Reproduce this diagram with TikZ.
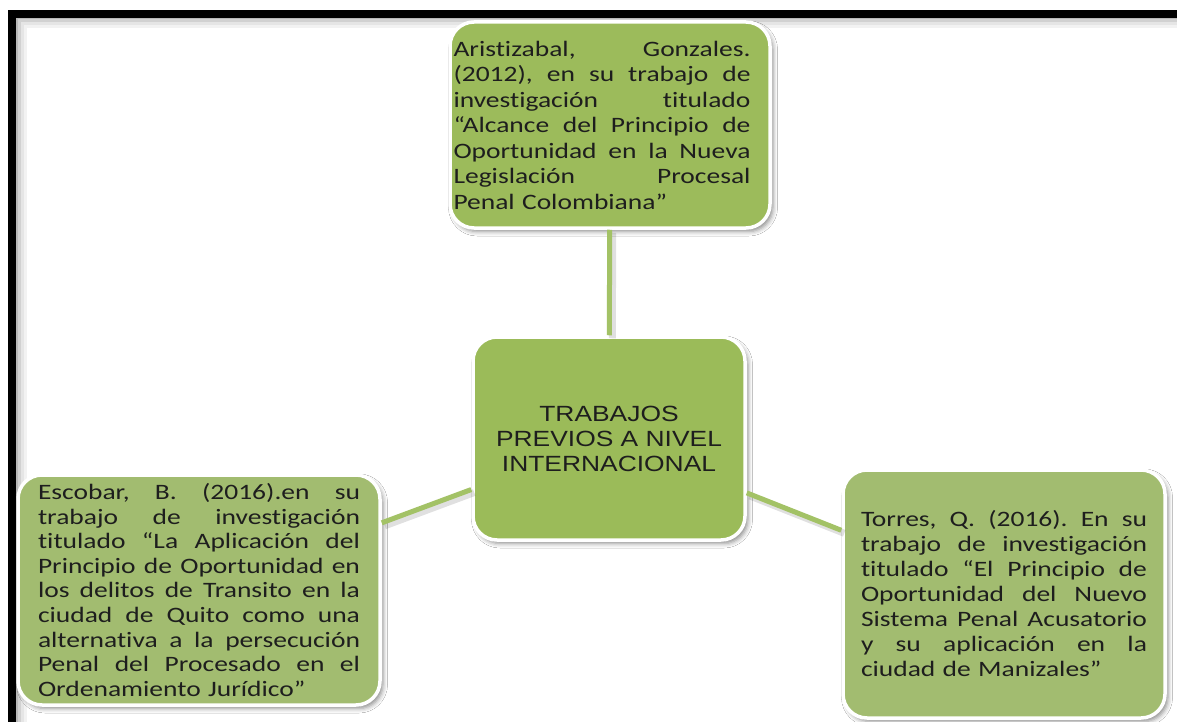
\documentclass[tikz,border=0pt]{standalone}
\usepackage{fontspec}
\newfontfamily\bodyfont[FakeStretch=1.25,Ligatures={NoCommon}]{Carlito}
\newfontfamily\headfont[FakeStretch=1.2]{Liberation Sans}
\usetikzlibrary{shadows.blur}
\definecolor{boxgreen}{HTML}{9BBB59}
\definecolor{sidegreen}{HTML}{A2BC70}
\definecolor{linkgreen}{HTML}{A3C266}
\definecolor{txt}{HTML}{1E1E1E}
\frenchspacing
\newcommand\jline[1]{\makebox[\hsize][s]{\spaceskip=0pt\xspaceskip=0pt\relax #1}}
\newcommand\tline[1]{\hspace*{-8pt}\jline{#1}}
\tikzset{
  card/.style={rounded corners=24pt, draw=white, line width=3.5pt, fill=#1,
    blur shadow={shadow xshift=3pt, shadow yshift=-3.5pt, shadow blur radius=4.5pt, shadow opacity=45},
    align=left, text=txt, inner sep=0pt},
  link/.style={draw=linkgreen, line width=5pt},
  linkshadow/.style={draw=black, opacity=0.12, line width=7pt, transform canvas={xshift=3pt,yshift=-3pt}},
}
\begin{document}
\begin{tikzpicture}[x=1pt,y=-1pt]
\useasboundingbox (0,0) rectangle (1177,722);
\fill[white] (0,0) rectangle (1177,722);
% frame with inner shadow
\foreach \o/\op in {4/0.28,7/0.18,10/0.10,13/0.05}{
  \draw[black, opacity=\op, line width=3pt] (12+\o,722) -- (12+\o,14+\o) -- (1177,14+\o);
}
\draw[line width=8pt, line join=miter] (12,722) -- (12,14) -- (1177,14);

% nodes
\node[card=boxgreen, minimum width=272pt, minimum height=203pt, align=center,
  font=\headfont\fontsize{22}{25}\selectfont] (cen) at (609,438.5)
  {TRABAJOS\\PREVIOS A NIVEL\\INTERNACIONAL};

\node[card=boxgreen!92!sidegreen, minimum width=320pt, minimum height=206pt, text width=297pt,
  font=\bodyfont\fontsize{22}{25.5}\selectfont] (top) at (610,125)
  {\tline{Aristizabal, Gonzales.}\\
   \tline{(2012), en su trabajo de}\\
   \tline{investigación titulado}\\
   \tline{“Alcance del Principio de}\\
   \tline{Oportunidad en la Nueva}\\
   \tline{Legislación Procesal}\\
   \hspace*{-8pt}Penal Colombiana”};

\node[card=sidegreen, minimum width=362pt, minimum height=230pt, text width=322pt,
  font=\bodyfont\fontsize{22}{24.6}\selectfont] (left) at (199,590)
  {\jline{Escobar, B. (2016).en su}\\
   \jline{trabajo de investigación}\\
   \jline{titulado “La Aplicación del}\\
   \jline{Principio de Oportunidad en}\\
   \jline{los delitos de Transito en la}\\
   \jline{ciudad de Quito como una}\\
   \jline{alternativa a la persecución}\\
   \jline{Penal del Procesado en el}\\
   Ordenamiento Jurídico”};

\node[card=sidegreen, minimum width=322pt, minimum height=248pt, text width=286pt,
  font=\bodyfont\fontsize{22}{25}\selectfont] (right) at (1004,594)
  {\jline{Torres, Q. (2016). En su}\\
   \jline{trabajo de investigación}\\
   \jline{titulado “El Principio de}\\
   \jline{Oportunidad del Nuevo}\\
   \jline{Sistema Penal Acusatorio}\\
   \jline{y su aplicación en la}\\
   ciudad de Manizales”};

% connectors
\draw[linkshadow] (top) -- (cen);
\draw[linkshadow] (cen) -- (left);
\draw[linkshadow] (cen) -- (right);
\draw[link] (top) -- (cen);
\draw[link] (cen) -- (left);
\draw[link] (cen) -- (right);
\end{tikzpicture}
\end{document}
